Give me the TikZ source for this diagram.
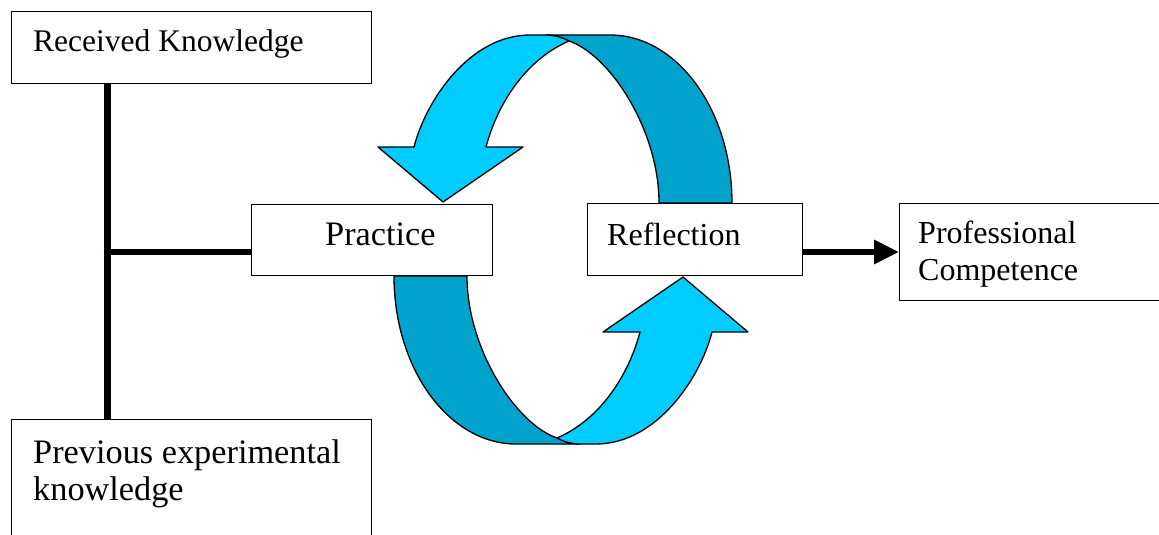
\documentclass[tikz,border=0pt]{standalone}
\usepackage{fontspec}
\setmainfont{Liberation Serif}
\usetikzlibrary{arrows.meta}
\definecolor{arrlight}{RGB}{0,204,255}
\definecolor{arrdark}{RGB}{0,163,204}
\begin{document}
\begin{tikzpicture}[x=1pt,y=-1pt,
  box/.style={draw=black, line width=1pt, fill=white, anchor=north west, inner sep=0pt},
  lbl/.style={anchor=base west, inner sep=0pt},
  lightpart/.style={fill=arrlight, draw=black, line width=1.3pt, line join=round},
  darkpart/.style={fill=arrdark, draw=black, line width=1.3pt, line join=round},
  conn/.style={draw=black, line width=7pt},
  conn2/.style={draw=black, line width=6pt}]
\clip (0,0) rectangle (1159,535);
\fill[white] (0,0) rectangle (1159,535);

% circular arrows (top pair, then the same rotated by 180 degrees)
\foreach \r in {0,180}{
  \begin{scope}[rotate around={\r:(563,239.5)}]
    \filldraw[darkpart] (546,35) -- (610,35) .. controls (677,35) and (732,110) .. (732,203)
      -- (659,203) .. controls (659,130) and (610,55) .. (569,41)
      .. controls (563,38) and (556,35) .. (546,35) -- cycle;
    \filldraw[lightpart] (443,202) -- (378,147) -- (414,147)
      .. controls (426,100) and (470,35) .. (530,35) -- (546,35)
      .. controls (556,35) and (563,38) .. (569,41)
      .. controls (525,60) and (497,105) .. (486,147) -- (523,147) -- cycle;
  \end{scope}
}

% boxes
\node[box, minimum width=360pt, minimum height=72pt] (rk) at (11,11) {};
\node[box, minimum width=360pt, minimum height=140pt] (pek) at (11,419) {};
\node[box, minimum width=241pt, minimum height=71pt] (prac) at (251,204) {};
\node[box, minimum width=215pt, minimum height=72pt] (refl) at (587,203) {};
\node[box, minimum width=270pt, minimum height=97pt] (prof) at (899,203) {};

% texts
\node[lbl, font=\fontsize{31.5}{36}\selectfont] (trk) at (33,52) {Received Knowledge};
\node[lbl, font=\fontsize{34.3}{37}\selectfont] (tpek1) at (33,463) {Previous experimental};
\node[lbl, font=\fontsize{34.3}{37}\selectfont] (tpek2) at (33,500) {knowledge};
\node[lbl, font=\fontsize{34.3}{38}\selectfont] (tprac) at (325,245) {Practice};
\node[lbl, font=\fontsize{32}{37}\selectfont] (trefl) at (607,245) {Reflection};
\node[lbl, font=\fontsize{32}{37}\selectfont] (tprof1) at (918,243) {Professional};
\node[lbl, font=\fontsize{32}{37}\selectfont] (tprof2) at (918,280) {Competence};

% connectors
\draw[conn] ([xshift=96pt]rk.south west) -- ([xshift=96pt]pek.north west);
\coordinate (j) at (107,251.5);
\draw[conn2] ([xshift=-3.5pt]j) -- (j -| prac.west);
\draw[conn2, -{Triangle[length=25pt,width=23pt]}] (refl.east |- prof.west) -- (prof.west);
\end{tikzpicture}
\end{document}
